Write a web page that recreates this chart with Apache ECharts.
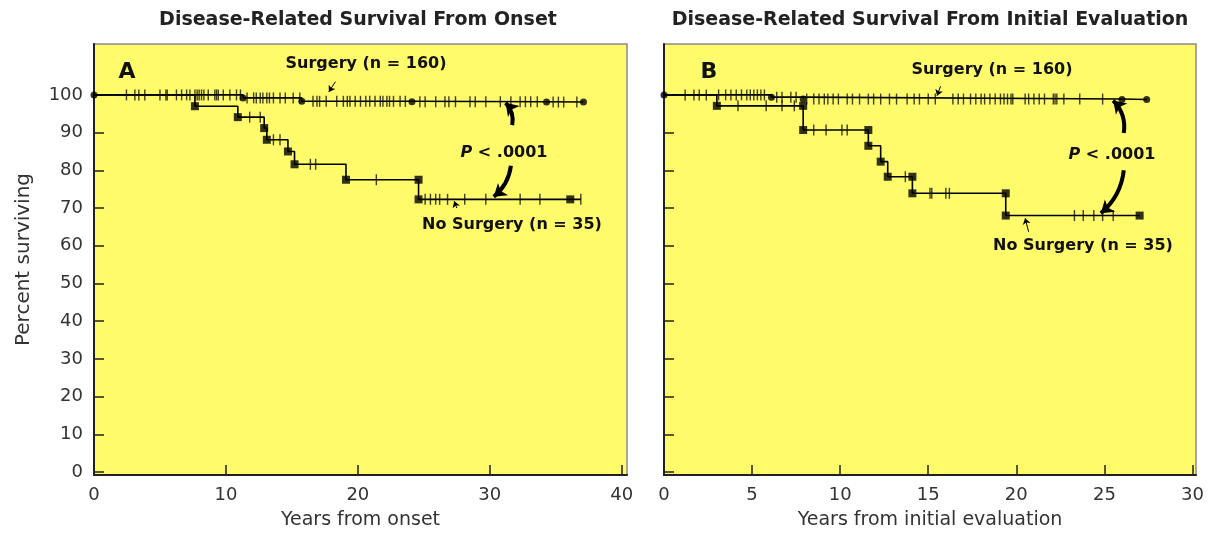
<!DOCTYPE html>
<html><head><meta charset="utf-8">
<script src="https://cdn.jsdelivr.net/npm/echarts@6/dist/echarts.min.js"></script>
<style>html,body{margin:0;padding:0;background:#fff}#c{width:1211px;height:535px}</style>
</head><body><div id="c"></div>
<script>
// ---------- tick labels ----------
const xTicksA = [0, 10, 20, 30, 40];
const xTicksB = [0, 5, 10, 15, 20, 25, 30];
const yTicks = [0, 10, 20, 30, 40, 50, 60, 70, 80, 90, 100];

// ---------- Panel A: from onset ----------
const surgA_t = [0, 11.3, 15.75, 24.1, 34.3];
const surgA_s = [100, 99.2, 98.3, 98.2, 98.1];
const surgA_end = 37.1;
const surgA_events_t = [0, 11.3, 15.75, 24.1, 34.3, 37.1];
const surgA_cens = [2.46, 3.1, 3.4, 3.85, 5.0, 5.45, 5.55, 6.25, 6.64, 7.02, 7.27, 7.65, 7.82, 7.97, 8.15, 8.33, 8.66, 9.16, 9.29, 9.42, 9.8, 10.3, 10.8, 11.1, 11.6, 12.1, 12.3, 12.6, 12.8, 13.1, 13.3, 13.6, 14.1, 14.5, 15.1, 15.6, 16.6, 16.9, 17.1, 17.6, 18.4, 18.9, 19.2, 19.4, 19.8, 20.2, 20.6, 20.9, 21.3, 21.7, 21.9, 22.2, 22.4, 22.7, 23.2, 23.6, 24.7, 25.1, 25.9, 26.6, 26.9, 27.4, 28.5, 28.9, 29.7, 30.8, 31.6, 32.3, 32.7, 33.1, 33.6, 34.8, 35.2, 35.6, 36.6];

const noSurgA_t = [0, 7.65, 10.9, 12.9, 13.1, 14.7, 15.2, 19.1, 24.6, 24.6];
const noSurgA_s = [100, 97.0, 94.1, 91.2, 88.1, 85.0, 81.6, 77.5, 77.5, 72.3];
const noSurgA_end = 36.9;
const noSurgA_events_t = [7.65, 10.9, 12.9, 13.1, 14.7, 15.2, 19.1, 24.6, 24.6, 36.1];
const noSurgA_events_s = [97.0, 94.1, 91.2, 88.1, 85.0, 81.6, 77.5, 77.5, 72.3, 72.3];
const noSurgA_cens = [11.8, 12.6, 13.6, 14.1, 16.4, 16.8, 21.4, 25.1, 25.5, 25.9, 26.2, 26.8, 28.1, 29.7, 32.3, 33.8, 36.9];

// ---------- Panel B: from initial evaluation ----------
const surgB_t = [0, 6.1, 7.9, 26.0];
const surgB_s = [100, 99.4, 98.9, 98.8];
const surgB_end = 27.4;
const surgB_events_t = [0, 6.1, 7.9, 26.0, 27.4];
const surgB_cens = [1.2, 1.7, 2.0, 2.4, 3.1, 3.5, 3.8, 4.1, 4.4, 4.7, 4.9, 5.1, 5.3, 5.5, 5.7, 6.4, 6.7, 7.2, 7.5, 8.1, 8.5, 8.8, 9.1, 9.3, 9.6, 9.9, 10.4, 10.7, 11.1, 11.6, 11.9, 12.3, 12.8, 13.2, 13.8, 14.2, 14.5, 15.0, 15.4, 16.4, 16.7, 17.0, 17.4, 17.7, 18.0, 18.2, 18.5, 18.8, 19.1, 19.3, 19.5, 19.7, 19.8, 20.5, 20.7, 21.0, 21.3, 21.6, 22.1, 22.2, 22.3, 22.7, 23.6, 24.9];

const noSurgB_t = [0, 3.0, 7.9, 7.9, 11.6, 11.6, 12.3, 12.7, 14.1, 14.1, 19.4, 19.4];
const noSurgB_s = [100, 97.1, 97.1, 90.7, 90.7, 86.5, 82.3, 78.3, 78.3, 73.9, 73.9, 68.0];
const noSurgB_end = 27.0;
const noSurgB_events_t = [3.0, 7.9, 7.9, 11.6, 11.6, 12.3, 12.7, 14.1, 14.1, 19.4, 19.4, 27.0];
const noSurgB_events_s = [97.1, 97.1, 90.7, 90.7, 86.5, 82.3, 78.3, 78.3, 73.9, 73.9, 68.0, 68.0];
const noSurgB_cens = [4.2, 5.8, 6.7, 7.4, 8.5, 9.2, 10.1, 10.4, 13.7, 15.1, 15.2, 16.0, 16.2, 23.3, 23.8, 24.4, 24.9, 25.5];

// ---------- annotation arrows (data coords) ----------
const arrowsA = [
  {from: [31.7, 92.0], to: [31.2, 97.9], big: true},
  {from: [31.6, 81.2], to: [30.3, 73.0], big: true},
  {from: [18.3, 103.5], to: [17.8, 100.8], big: false},
  {from: [27.5, 70.0], to: [27.3, 71.8], big: false}
];
const arrowsB = [
  {from: [26.1, 89.9], to: [25.5, 98.5], big: true},
  {from: [26.1, 80.0], to: [24.8, 68.6], big: true},
  {from: [15.7, 102.3], to: [15.5, 99.8], big: false},
  {from: [20.7, 63.7], to: [20.5, 67.3], big: false}
];

// ---------- helpers ----------
function stepAt(ts, ss, x) {
  let v = ss[0];
  for (let i = 0; i < ts.length; i++) { if (ts[i] <= x) v = ss[i]; }
  return v;
}
function lineData(ts, ss, end) {
  const d = ts.map((t, i) => [t, ss[i]]);
  d.push([end, ss[ss.length - 1]]);
  return d;
}

const FONT = '"DejaVu Sans", sans-serif';
const INK = '#000';
const TXT = '#333';

function panelSeries(i, st, ss, send, sev, scens, nt, ns, nend, nevt, nevs, ncens, arrows) {
  const ax = {xAxisIndex: i, yAxisIndex: i};
  const out = [];
  out.push(Object.assign({type: 'line', step: 'end', data: lineData(st, ss, send), showSymbol: false,
    lineStyle: {color: INK, width: 1.6}, silent: true, z: 3}, ax));
  out.push(Object.assign({type: 'line', step: 'end', data: lineData(nt, ns, nend), showSymbol: false,
    lineStyle: {color: INK, width: 1.6}, silent: true, z: 3}, ax));
  out.push(Object.assign({type: 'scatter', symbol: 'rect', symbolSize: [1.4, 11],
    data: scens.map(t => [t, stepAt(st, ss, t)]), itemStyle: {color: '#111'}, z: 4}, ax));
  out.push(Object.assign({type: 'scatter', symbol: 'rect', symbolSize: [1.4, 11],
    data: ncens.map(t => [t, stepAt(nt, ns, t)]), itemStyle: {color: '#111'}, z: 4}, ax));
  out.push(Object.assign({type: 'scatter', symbol: 'circle', symbolSize: 7,
    data: sev.map(t => [t, stepAt(st, ss, t)]), itemStyle: {color: INK}, z: 5}, ax));
  out.push(Object.assign({type: 'scatter', symbol: 'rect', symbolSize: 8,
    data: nevt.map((t, k) => [t, nevs[k]]), itemStyle: {color: INK}, z: 5}, ax));
  out.push(Object.assign({type: 'lines', coordinateSystem: 'cartesian2d', z: 6,
    data: arrows.filter(a => a.big).map((a, k) => ({coords: [a.from, a.to], lineStyle: {curveness: k === 0 ? -0.25 : 0.2}})),
    lineStyle: {color: INK, width: 4, opacity: 1}, symbol: ['none', 'arrow'], symbolSize: 12}, ax));
  out.push(Object.assign({type: 'lines', coordinateSystem: 'cartesian2d', z: 6,
    data: arrows.filter(a => !a.big).map(a => ({coords: [a.from, a.to]})),
    lineStyle: {color: INK, width: 1, opacity: 1}, symbol: ['none', 'arrow'], symbolSize: 6}, ax));
  return out;
}

function xAxisCfg(i, max, ticks, name) {
  return {
    type: 'value', gridIndex: i, min: 0, max: max,
    name: name, nameLocation: 'middle', nameGap: 36,
    nameTextStyle: {fontFamily: FONT, fontSize: 19, color: TXT},
    axisLine: {show: true, onZero: false, lineStyle: {color: '#222', width: 2}},
    axisTick: {show: true, inside: true, length: 10, customValues: ticks, lineStyle: {color: '#222', width: 1.5}},
    axisLabel: {customValues: ticks, margin: 11, fontFamily: FONT, fontSize: 18, color: TXT},
    splitLine: {show: false}
  };
}
function yAxisCfg(i, labels) {
  return {
    type: 'value', gridIndex: i, min: -0.8, max: 113.5,
    name: labels ? 'Percent surviving' : '', nameLocation: 'middle', nameGap: 60,
    nameTextStyle: {fontFamily: FONT, fontSize: 20, color: TXT},
    axisLine: {show: true, onZero: false, lineStyle: {color: '#222', width: 2}},
    axisTick: {show: true, inside: true, length: 10, customValues: yTicks, lineStyle: {color: '#222', width: 1.5}},
    axisLabel: {show: labels, customValues: yTicks, margin: 11, fontFamily: FONT, fontSize: 18, color: TXT},
    splitLine: {show: false}
  };
}

const gridStyle = {show: true, backgroundColor: '#fffb6a', borderColor: '#8a8a8a', borderWidth: 1.5};

function txt(x, y, text, size, extra) {
  return {type: 'text', x: x, y: y, z: 100,
    style: Object.assign({text: text, fill: '#111', fontFamily: FONT, fontSize: size, fontWeight: 'bold',
      align: 'center', verticalAlign: 'middle'}, extra || {})};
}
function pText(x, y) {
  return txt(x, y, '{i|P} < .0001', 16, {rich: {i: {fontStyle: 'italic', fontWeight: 'bold', fontSize: 16, fontFamily: FONT, fill: '#111'}}});
}

const chart = echarts.init(document.getElementById('c'), null, {renderer: 'canvas'});
chart.setOption({
  animation: false,
  backgroundColor: '#fff',
  grid: [
    Object.assign({left: 94, top: 44, width: 533, height: 431}, gridStyle),
    Object.assign({left: 664, top: 44, width: 532, height: 431}, gridStyle)
  ],
  xAxis: [xAxisCfg(0, 40.4, xTicksA, 'Years from onset'), xAxisCfg(1, 30.2, xTicksB, 'Years from initial evaluation')],
  yAxis: [yAxisCfg(0, true), yAxisCfg(1, false)],
  series: [].concat(
    panelSeries(0, surgA_t, surgA_s, surgA_end, surgA_events_t, surgA_cens,
      noSurgA_t, noSurgA_s, noSurgA_end, noSurgA_events_t, noSurgA_events_s, noSurgA_cens, arrowsA),
    panelSeries(1, surgB_t, surgB_s, surgB_end, surgB_events_t, surgB_cens,
      noSurgB_t, noSurgB_s, noSurgB_end, noSurgB_events_t, noSurgB_events_s, noSurgB_cens, arrowsB)
  ),
  graphic: [
    txt(358, 20, 'Disease-Related Survival From Onset', 19, {fill: '#222'}),
    txt(930, 20, 'Disease-Related Survival From Initial Evaluation', 19, {fill: '#222'}),
    txt(127, 72, 'A', 22),
    txt(709, 72, 'B', 22),
    txt(366, 64, 'Surgery (n = 160)', 16),
    txt(512, 225, 'No Surgery (n = 35)', 16),
    pText(504, 153),
    txt(992, 70, 'Surgery (n = 160)', 16),
    txt(1083, 246, 'No Surgery (n = 35)', 16),
    pText(1112, 155)
  ]
});
</script></body></html>
